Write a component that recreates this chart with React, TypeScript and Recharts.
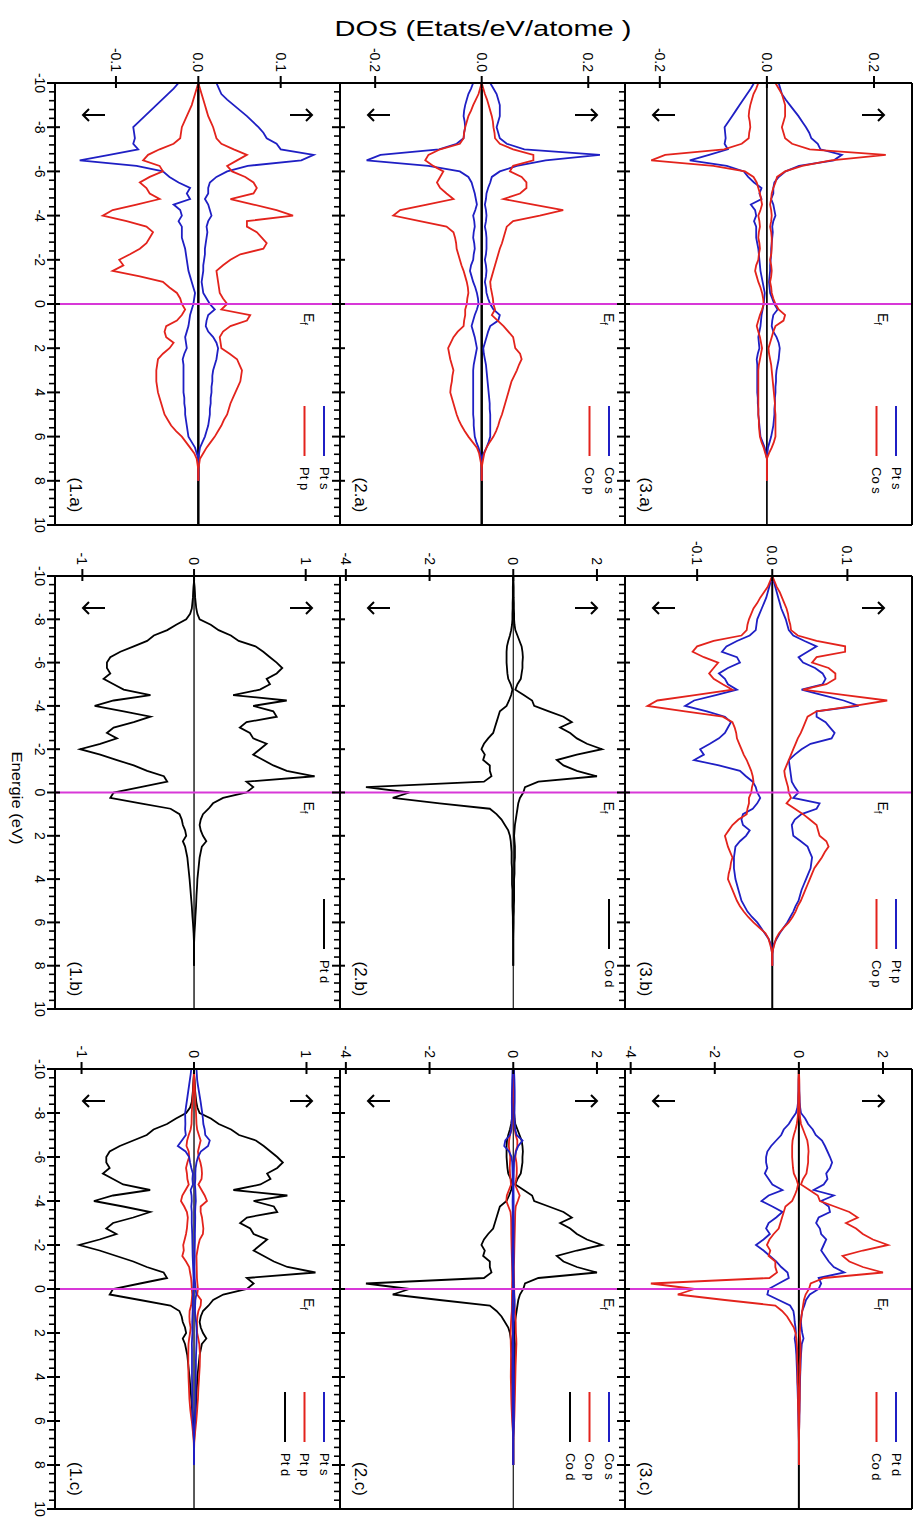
import React from "react";
import { LineChart, Line, XAxis, YAxis, ReferenceLine } from "recharts";

// energy grid (eV), -10 .. 8 by 0.25
const energy = Array.from({ length: 73 }, (_, i) => -10 + i * 0.25);

// Pt s
const ptSUp = [
  0.022, 0.025, 0.028, 0.035, 0.043, 0.051, 0.059, 0.066,
  0.073, 0.079, 0.083, 0.095, 0.1, 0.14, 0.125, 0.06,
  0.035, 0.022, 0.014, 0.012, 0.012, 0.008, 0.012, 0.014,
  0.016, 0.012, 0.01, 0.011, 0.01, 0.009, 0.008, 0.008,
  0.007, 0.006, 0.006, 0.005, 0.004, 0.005, 0.006, 0.01,
  0.014, 0.02, 0.012, 0.01, 0.009, 0.012, 0.018, 0.022,
  0.024, 0.023, 0.022, 0.02, 0.018, 0.017, 0.017, 0.016,
  0.016, 0.015, 0.015, 0.014, 0.014, 0.013, 0.012, 0.01,
  0.008, 0.005, 0.002, 0.001, 0, 0, 0, 0,
  0,
];
const ptSDn = [
  -0.024, -0.03, -0.037, -0.044, -0.051, -0.058, -0.065, -0.072,
  -0.079, -0.078, -0.077, -0.079, -0.073, -0.108, -0.144, -0.075,
  -0.043, -0.035, -0.024, -0.01, -0.014, -0.01, -0.03, -0.022,
  -0.02, -0.024, -0.02, -0.02, -0.02, -0.018, -0.016, -0.015,
  -0.014, -0.013, -0.012, -0.01, -0.008, -0.006, -0.004, -0.005,
  -0.006, -0.008, -0.01, -0.011, -0.012, -0.014, -0.016, -0.015,
  -0.014, -0.017, -0.019, -0.018, -0.018, -0.018, -0.018, -0.018,
  -0.018, -0.017, -0.017, -0.016, -0.016, -0.015, -0.014, -0.013,
  -0.012, -0.008, -0.004, -0.002, 0, 0, 0, 0,
  0,
];
// Pt p
const ptPUp = [
  0, 0.002, 0.004, 0.006, 0.008, 0.01, 0.012, 0.015,
  0.018, 0.02, 0.022, 0.028, 0.043, 0.059, 0.047, 0.035,
  0.041, 0.057, 0.067, 0.071, 0.067, 0.039, 0.067, 0.095,
  0.115, 0.059, 0.059, 0.071, 0.077, 0.083, 0.079, 0.051,
  0.039, 0.03, 0.022, 0.023, 0.024, 0.025, 0.026, 0.03,
  0.035, 0.028, 0.063, 0.059, 0.039, 0.03, 0.026, 0.027,
  0.028, 0.038, 0.047, 0.05, 0.053, 0.052, 0.051, 0.048,
  0.045, 0.042, 0.039, 0.037, 0.035, 0.031, 0.028, 0.024,
  0.02, 0.015, 0.01, 0.006, 0.002, 0.001, 0, 0,
  0,
];
const ptPDn = [
  0, -0.002, -0.004, -0.006, -0.008, -0.011, -0.014, -0.017,
  -0.02, -0.021, -0.022, -0.03, -0.047, -0.061, -0.067, -0.047,
  -0.043, -0.059, -0.071, -0.063, -0.059, -0.047, -0.075, -0.104,
  -0.116, -0.087, -0.063, -0.055, -0.059, -0.063, -0.071, -0.083,
  -0.096, -0.091, -0.104, -0.071, -0.043, -0.035, -0.026, -0.022,
  -0.02, -0.016, -0.02, -0.026, -0.039, -0.041, -0.039, -0.03,
  -0.035, -0.043, -0.049, -0.05, -0.051, -0.051, -0.051, -0.05,
  -0.049, -0.047, -0.045, -0.043, -0.041, -0.037, -0.033, -0.027,
  -0.02, -0.015, -0.01, -0.005, -0.002, -0.001, 0, 0,
  0,
];
// Co s
const coSUp = [
  0.016, 0.022, 0.028, 0.031, 0.034, 0.034, 0.034, 0.031,
  0.028, 0.031, 0.034, 0.047, 0.08, 0.222, 0.12, 0.066,
  0.034, 0.019, 0.016, 0.012, 0.009, 0.008, 0.006, 0.008,
  0.009, 0.008, 0.006, 0.008, 0.009, 0.009, 0.009, 0.008,
  0.006, 0.008, 0.009, 0.008, 0.006, 0.008, 0.009, 0.012,
  0.016, 0.022, 0.034, 0.031, 0.016, 0.012, 0.009, 0.006,
  0.003, 0.004, 0.006, 0.008, 0.009, 0.01, 0.011, 0.012,
  0.013, 0.014, 0.015, 0.015, 0.016, 0.016, 0.016, 0.016,
  0.016, 0.013, 0.009, 0.004, 0, 0, 0, 0,
  0,
];
const coSDn = [
  -0.016, -0.02, -0.025, -0.028, -0.031, -0.033, -0.034, -0.032,
  -0.031, -0.033, -0.034, -0.047, -0.08, -0.19, -0.216, -0.1,
  -0.041, -0.025, -0.019, -0.016, -0.013, -0.011, -0.009, -0.012,
  -0.016, -0.014, -0.013, -0.015, -0.016, -0.014, -0.013, -0.015,
  -0.016, -0.02, -0.022, -0.019, -0.016, -0.012, -0.009, -0.007,
  -0.006, -0.009, -0.013, -0.016, -0.019, -0.016, -0.013, -0.011,
  -0.009, -0.011, -0.013, -0.015, -0.016, -0.016, -0.016, -0.016,
  -0.016, -0.016, -0.016, -0.016, -0.016, -0.015, -0.015, -0.014,
  -0.013, -0.01, -0.006, -0.003, 0, 0, 0, 0,
  0,
];
// Co p
const coPUp = [
  0, 0.003, 0.006, 0.01, 0.013, 0.016, 0.019, 0.021,
  0.022, 0.024, 0.025, 0.034, 0.059, 0.097, 0.097, 0.059,
  0.053, 0.075, 0.084, 0.084, 0.072, 0.041, 0.097, 0.153,
  0.109, 0.059, 0.047, 0.044, 0.041, 0.038, 0.034, 0.031,
  0.028, 0.025, 0.022, 0.019, 0.016, 0.017, 0.019, 0.021,
  0.022, 0.025, 0.019, 0.03, 0.041, 0.05, 0.059, 0.061,
  0.063, 0.072, 0.075, 0.07, 0.066, 0.061, 0.056, 0.053,
  0.05, 0.047, 0.044, 0.041, 0.038, 0.034, 0.031, 0.027,
  0.022, 0.015, 0.009, 0.005, 0.003, 0.001, 0, 0,
  0,
];
const coPDn = [
  0, -0.003, -0.006, -0.011, -0.016, -0.02, -0.025, -0.028,
  -0.031, -0.033, -0.034, -0.041, -0.078, -0.1, -0.106, -0.091,
  -0.072, -0.078, -0.084, -0.078, -0.066, -0.053, -0.103, -0.153,
  -0.166, -0.116, -0.066, -0.053, -0.05, -0.048, -0.047, -0.044,
  -0.041, -0.038, -0.034, -0.031, -0.028, -0.026, -0.025, -0.027,
  -0.028, -0.031, -0.031, -0.033, -0.034, -0.045, -0.053, -0.058,
  -0.063, -0.061, -0.059, -0.056, -0.053, -0.055, -0.056, -0.058,
  -0.059, -0.056, -0.053, -0.05, -0.047, -0.043, -0.038, -0.032,
  -0.025, -0.017, -0.009, -0.005, -0.003, -0.001, 0, 0,
  0,
];
// Pt d
const ptDUp = [
  0, 0, 0.005, 0.008, 0.01, 0.015, 0.02, 0.03,
  0.05, 0.15, 0.22, 0.33, 0.4, 0.55, 0.62, 0.68,
  0.74, 0.79, 0.74, 0.65, 0.68, 0.59, 0.35, 0.83,
  0.53, 0.71, 0.74, 0.47, 0.41, 0.5, 0.53, 0.65,
  0.59, 0.53, 0.62, 0.71, 0.83, 1.08, 0.47, 0.53,
  0.47, 0.26, 0.17, 0.13, 0.08, 0.06, 0.05, 0.06,
  0.08, 0.11, 0.07, 0.06, 0.05, 0.045, 0.04, 0.035,
  0.03, 0.028, 0.025, 0.022, 0.02, 0.018, 0.015, 0.012,
  0.01, 0.007, 0.004, 0.002, 0, 0, 0, 0,
  0,
];
const ptDDn = [
  0, 0, -0.005, -0.008, -0.01, -0.015, -0.02, -0.035,
  -0.07, -0.16, -0.24, -0.36, -0.42, -0.54, -0.66, -0.75,
  -0.78, -0.78, -0.75, -0.81, -0.72, -0.63, -0.39, -0.72,
  -0.89, -0.63, -0.39, -0.54, -0.72, -0.78, -0.69, -0.84,
  -1.02, -0.84, -0.69, -0.54, -0.42, -0.27, -0.24, -0.48,
  -0.72, -0.75, -0.48, -0.21, -0.13, -0.11, -0.1, -0.08,
  -0.07, -0.1, -0.08, -0.07, -0.06, -0.055, -0.05, -0.045,
  -0.04, -0.036, -0.032, -0.028, -0.024, -0.02, -0.017, -0.014,
  -0.01, -0.007, -0.004, -0.002, 0, 0, 0, 0,
  0,
];
// Co d
const coDUp = [
  0, 0.005, 0.01, 0.01, 0.01, 0.015, 0.015, 0.02,
  0.02, 0.03, 0.05, 0.1, 0.15, 0.2, 0.22, 0.23,
  0.22, 0.22, 0.2, 0.18, 0.1, 0.05, 0.25, 0.45,
  0.5, 0.85, 1.2, 1.4, 1.12, 1.36, 1.52, 1.76,
  2.12, 1.52, 1.04, 1.2, 1.52, 2.0, 0.6, 0.28,
  0.24, 0.16, 0.12, 0.1, 0.08, 0.06, 0.04, 0.03,
  0.02, 0.03, 0.04, 0.04, 0.04, 0.03, 0.03, 0.03,
  0.02, 0.02, 0.02, 0.02, 0.02, 0.015, 0.015, 0.01,
  0.01, 0.008, 0.005, 0.003, 0, 0, 0, 0,
  0,
];
const coDDn = [
  0, -0.005, -0.01, -0.01, -0.01, -0.015, -0.015, -0.02,
  -0.02, -0.03, -0.05, -0.08, -0.12, -0.15, -0.16, -0.16,
  -0.16, -0.15, -0.14, -0.12, -0.06, -0.02, -0.05, -0.1,
  -0.16, -0.32, -0.36, -0.4, -0.44, -0.48, -0.6, -0.7,
  -0.76, -0.68, -0.72, -0.56, -0.56, -0.52, -0.7, -3.52,
  -2.48, -2.88, -1.76, -0.56, -0.4, -0.28, -0.2, -0.12,
  -0.08, -0.06, -0.05, -0.04, -0.04, -0.04, -0.03, -0.03,
  -0.03, -0.03, -0.02, -0.02, -0.02, -0.02, -0.015, -0.01,
  -0.01, -0.008, -0.005, -0.003, 0, 0, 0, 0,
  0,
];

const energyTicks = Array.from({ length: 51 }, (_, i) => Math.round((-10 + i * 0.4) * 10) / 10);

const BLUE = "#1f1fc4";
const RED = "#e3231c";
const BLACK = "#000";
const MAGENTA = "#d838d8";
const FONT = "'Liberation Sans', Arial, Helvetica, sans-serif";

const colX = [55, 340, 625];
const colW = [285, 285, 287];
const rowY = [83, 576, 1069];
const rowH = [442, 433, 440];
const efOffset = [36, 21, 34];

const L = 48;
const T = 50;
const R = 4;
const B = 16;

const species: Record<string, number[][]> = {
  ptS: [ptSUp, ptSDn],
  ptP: [ptPUp, ptPDn],
  ptD: [ptDUp, ptDDn],
  coS: [coSUp, coSDn],
  coP: [coPUp, coPDn],
  coD: [coDUp, coDDn],
};

const table = energy.map((e, i) => {
  const row: Record<string, number> = { e };
  Object.keys(species).forEach((k) => {
    row[k + "Up"] = species[k][0][i];
    row[k + "Dn"] = species[k][1][i];
  });
  return row;
});

type PanelDef = {
  name: string;
  col: number;
  row: number;
  dom: [number, number];
  ticks: number[];
  dec: number;
  lines: [string, string][];
  legend: [string, string][];
  zw: number;
};

const panels: PanelDef[] = [
  { name: "(1.a)", col: 0, row: 0, dom: [-0.174, 0.172], ticks: [-0.1, 0, 0.1], dec: 1, lines: [["ptS", BLUE], ["ptP", RED]], legend: [["Pt s", BLUE], ["Pt p", RED]], zw: 2.5 },
  { name: "(2.a)", col: 1, row: 0, dom: [-0.266, 0.269], ticks: [-0.2, 0, 0.2], dec: 1, lines: [["coS", BLUE], ["coP", RED]], legend: [["Co s", BLUE], ["Co p", RED]], zw: 2.5 },
  { name: "(3.a)", col: 2, row: 0, dom: [-0.265, 0.271], ticks: [-0.2, 0, 0.2], dec: 1, lines: [["ptS", BLUE], ["coS", RED]], legend: [["Pt s", BLUE], ["Co s", RED]], zw: 1.7 },
  { name: "(1.b)", col: 0, row: 1, dom: [-1.245, 1.307], ticks: [-1, 0, 1], dec: 0, lines: [["ptD", BLACK]], legend: [["Pt d", BLACK]], zw: 1.3 },
  { name: "(2.b)", col: 1, row: 1, dom: [-4.14, 2.67], ticks: [-4, -2, 0, 2], dec: 0, lines: [["coD", BLACK]], legend: [["Co d", BLACK]], zw: 1.1 },
  { name: "(3.b)", col: 2, row: 1, dom: [-0.196, 0.186], ticks: [-0.1, 0, 0.1], dec: 1, lines: [["ptP", BLUE], ["coP", RED]], legend: [["Pt p", BLUE], ["Co p", RED]], zw: 2 },
  { name: "(1.c)", col: 0, row: 2, dom: [-1.236, 1.298], ticks: [-1, 0, 1], dec: 0, lines: [["ptD", BLACK], ["ptP", RED], ["ptS", BLUE]], legend: [["Pt s", BLUE], ["Pt p", RED], ["Pt d", BLACK]], zw: 1.3 },
  { name: "(2.c)", col: 1, row: 2, dom: [-4.14, 2.67], ticks: [-4, -2, 0, 2], dec: 0, lines: [["coD", BLACK], ["coP", RED], ["coS", BLUE]], legend: [["Co s", BLUE], ["Co p", RED], ["Co d", BLACK]], zw: 1.1 },
  { name: "(3.c)", col: 2, row: 2, dom: [-4.135, 2.69], ticks: [-4, -2, 0, 2], dec: 0, lines: [["ptD", BLUE], ["coD", RED]], legend: [["Pt d", BLUE], ["Co d", RED]], zw: 2 },
];

function makeYTick(showLabel: boolean) {
  return (props: any) => {
    const { y, payload } = props;
    const v = payload.value;
    const major = Math.abs(v - 2 * Math.round(v / 2)) < 1e-6;
    return (
      <g>
        <line x1={L - (major ? 8 : 6)} x2={L + (major ? 5 : 0)} y1={y} y2={y} stroke="#000" strokeWidth={major ? 2 : 1.6} />
        {major && showLabel && (
          <text transform={`translate(${L - 20},${y}) rotate(90)`} textAnchor="middle" fontSize={14} fontFamily={FONT} fill="#000">
            {String(v)}
          </text>
        )}
      </g>
    );
  };
}

function makeXTick(dec: number) {
  return (props: any) => {
    const { x, payload } = props;
    return (
      <g>
        <line x1={x} x2={x} y1={T - 7} y2={T + 5} stroke="#000" strokeWidth={2} />
        <text transform={`translate(${x - 5},${T - 11}) rotate(90)`} textAnchor="end" fontSize={14} fontFamily={FONT} fill="#000">
          {Number(payload.value).toFixed(dec)}
        </text>
      </g>
    );
  };
}

function Panel({ p }: { p: PanelDef }) {
  const fx = colX[p.col];
  const fy = rowY[p.row];
  const w = colW[p.col];
  const h = rowH[p.row];
  const frame = { stroke: "#000", strokeWidth: 2 };
  return (
    <div style={{ position: "absolute", left: fx - L, top: fy - T }}>
      <LineChart layout="vertical" width={L + w + R} height={T + h + B} data={table} margin={{ top: 0, left: 0, right: 0, bottom: 0 }}>
        <XAxis type="number" orientation="top" domain={p.dom} ticks={p.ticks} interval={0} height={T} allowDataOverflow tickLine={false} axisLine={frame} tick={makeXTick(p.dec)} />
        <XAxis xAxisId="b" type="number" orientation="bottom" domain={p.dom} height={B} tick={false} tickLine={false} axisLine={frame} />
        <YAxis type="number" dataKey="e" domain={[-10, 10]} ticks={energyTicks} interval={0} width={L} allowDataOverflow tickLine={false} axisLine={frame} tick={makeYTick(p.col === 0)} />
        <YAxis yAxisId="r" type="number" orientation="right" domain={[-10, 10]} width={R} tick={false} tickLine={false} axisLine={frame} />
        <ReferenceLine x={0} stroke="#000" strokeWidth={p.zw} />
        {p.lines.flatMap(([k, c]) => [
          <Line key={k + "Up"} dataKey={k + "Up"} stroke={c} strokeWidth={1.8} dot={false} isAnimationActive={false} type="linear" />,
          <Line key={k + "Dn"} dataKey={k + "Dn"} stroke={c} strokeWidth={1.8} dot={false} isAnimationActive={false} type="linear" />,
        ])}
        <ReferenceLine y={0} stroke={MAGENTA} strokeWidth={2.2} />
      </LineChart>
    </div>
  );
}

function Overlay() {
  return (
    <svg width={915} height={1519} style={{ position: "absolute", left: 0, top: 0, pointerEvents: "none" }} fontFamily={FONT}>
      <text x={483} y={36} textAnchor="middle" fontSize={22} textLength={297} lengthAdjust="spacingAndGlyphs" fill="#000">
        DOS  (Etats/eV/atome )
      </text>
      <text transform="translate(12,798) rotate(90)" textAnchor="middle" fontSize={14} textLength={93} lengthAdjust="spacingAndGlyphs" fill="#000">
        Energie (eV)
      </text>
      {panels.map((p) => {
        const fx = colX[p.col];
        const fy = rowY[p.row];
        const w = colW[p.col];
        const h = rowH[p.row];
        const right = fx + w;
        const ay = fy + 32;
        const la = fx + 39;
        const ra = right - 39;
        const efY = fy + h / 2;
        return (
          <g key={p.name}>
            <path d={`M${la + 11},${ay} L${la - 11},${ay} M${la - 5},${ay - 6} L${la - 11},${ay} L${la - 5},${ay + 6}`} stroke="#000" strokeWidth={2} fill="none" />
            <path d={`M${ra - 11},${ay} L${ra + 11},${ay} M${ra + 5},${ay - 6} L${ra + 11},${ay} L${ra + 5},${ay + 6}`} stroke="#000" strokeWidth={2} fill="none" />
            <text transform={`translate(${right - efOffset[p.col]},${efY + 9}) rotate(90)`} fontSize={14} fill="#000">
              E<tspan fontSize={10} dy={4}>f</tspan>
            </text>
            <text transform={`translate(${fx + 15},${fy + h - 30}) rotate(90)`} textAnchor="middle" fontSize={17} fill="#000">
              {p.name}
            </text>
            {p.legend.map(([label, c], i) => {
              const lx = right - 16 - i * 19.5;
              return (
                <g key={label}>
                  <line x1={lx} x2={lx} y1={fy + 323} y2={fy + 373} stroke={c} strokeWidth={2} />
                  <text transform={`translate(${lx - 4.5},${fy + 384}) rotate(90)`} fontSize={13} fill="#000">
                    {label}
                  </text>
                </g>
              );
            })}
          </g>
        );
      })}
    </svg>
  );
}

export default function App() {
  return (
    <div style={{ position: "absolute", left: 0, top: 0, width: 915, height: 1519, background: "#fff", overflow: "hidden" }}>
      {panels.map((p) => (
        <Panel key={p.name} p={p} />
      ))}
      <Overlay />
    </div>
  );
}
